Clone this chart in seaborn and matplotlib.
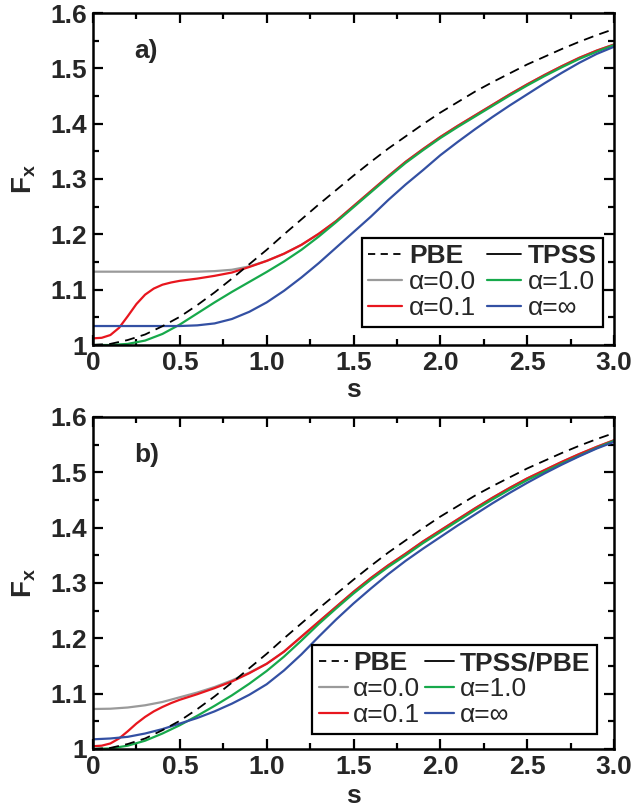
import numpy as np
import pandas as pd
import seaborn as sns
import matplotlib
matplotlib.use("Agg")
import matplotlib.pyplot as plt
from matplotlib.lines import Line2D
from matplotlib.ticker import MultipleLocator, FuncFormatter

# ---------------- data ----------------
S = [0.0, 0.1, 0.2, 0.3, 0.4, 0.5, 0.6, 0.7, 0.8, 0.9, 1.0,
     1.1, 1.2, 1.3, 1.4, 1.5, 1.6, 1.7, 1.8, 1.9, 2.0,
     2.1, 2.2, 2.3, 2.4, 2.5, 2.6, 2.7, 2.8, 2.9, 3.0]
S_FINE = [0.0, 0.05, 0.1, 0.15, 0.2, 0.25, 0.3, 0.35, 0.4, 0.45, 0.5,
          0.6, 0.7, 0.8, 0.9, 1.0,
          1.1, 1.2, 1.3, 1.4, 1.5, 1.6, 1.7, 1.8, 1.9, 2.0,
          2.1, 2.2, 2.3, 2.4, 2.5, 2.6, 2.7, 2.8, 2.9, 3.0]

pbe = [1.000, 1.002, 1.009, 1.019, 1.034, 1.051, 1.072, 1.095, 1.120, 1.146, 1.172,
       1.200, 1.227, 1.254, 1.280, 1.306, 1.331, 1.355, 1.377, 1.399, 1.420,
       1.439, 1.458, 1.475, 1.491, 1.507, 1.521, 1.535, 1.548, 1.560, 1.571]

# panel a) TPSS
a_gray = [1.1325, 1.1325, 1.1325, 1.1325, 1.1325, 1.1325, 1.1325, 1.1335, 1.136, 1.142, 1.152,
          1.165, 1.181, 1.201, 1.224, 1.251, 1.278, 1.305, 1.331, 1.354, 1.376,
          1.396, 1.415, 1.434, 1.453, 1.471, 1.488, 1.504, 1.519, 1.532, 1.543]
a_red = [1.012, 1.013, 1.018, 1.031, 1.052, 1.074, 1.091, 1.102, 1.109, 1.113, 1.116,
         1.120, 1.125, 1.131, 1.141, 1.152,
         1.165, 1.181, 1.201, 1.224, 1.251, 1.278, 1.305, 1.331, 1.354, 1.376,
         1.396, 1.415, 1.434, 1.453, 1.471, 1.488, 1.504, 1.519, 1.532, 1.543]
a_green = [1.000, 1.000, 1.002, 1.008, 1.020, 1.037, 1.057, 1.077, 1.096, 1.114, 1.132,
           1.151, 1.172, 1.196, 1.222, 1.249, 1.276, 1.303, 1.329, 1.352, 1.374,
           1.394, 1.413, 1.432, 1.451, 1.469, 1.486, 1.502, 1.517, 1.530, 1.542]
a_blue = [1.0343, 1.0343, 1.0343, 1.0343, 1.0343, 1.0343, 1.0355, 1.039, 1.047, 1.060, 1.077,
          1.098, 1.122, 1.148, 1.176, 1.204, 1.232, 1.262, 1.290, 1.316, 1.343,
          1.367, 1.390, 1.412, 1.433, 1.453, 1.473, 1.492, 1.510, 1.526, 1.539]

# panel b) TPSS/PBE
b_gray = [1.0723, 1.0728, 1.075, 1.079, 1.085, 1.0935, 1.102, 1.112, 1.124, 1.138, 1.154,
          1.176, 1.203, 1.230, 1.257, 1.284, 1.309, 1.332, 1.353, 1.375, 1.395,
          1.415, 1.435, 1.454, 1.472, 1.489, 1.504, 1.519, 1.533, 1.546, 1.558]
b_red = [1.005, 1.006, 1.010, 1.019, 1.032, 1.046, 1.058, 1.068, 1.076, 1.083, 1.089,
         1.099, 1.110, 1.122, 1.137, 1.154,
         1.176, 1.203, 1.230, 1.257, 1.284, 1.309, 1.332, 1.353, 1.375, 1.395,
         1.415, 1.435, 1.454, 1.472, 1.489, 1.504, 1.519, 1.533, 1.546, 1.558]
b_green = [1.000, 1.001, 1.006, 1.015, 1.028, 1.043, 1.060, 1.078, 1.097, 1.118, 1.141,
           1.167, 1.196, 1.226, 1.254, 1.281, 1.306, 1.329, 1.350, 1.372, 1.392,
           1.412, 1.432, 1.451, 1.469, 1.486, 1.501, 1.516, 1.530, 1.544, 1.557]
b_blue = [1.0175, 1.019, 1.022, 1.028, 1.036, 1.046, 1.056, 1.068, 1.082, 1.098, 1.117,
          1.142, 1.171, 1.203, 1.234, 1.263, 1.290, 1.316, 1.340, 1.362, 1.383,
          1.404, 1.424, 1.444, 1.463, 1.481, 1.498, 1.514, 1.529, 1.543, 1.555]

LABELS = ["α=0.0", "α=0.1", "α=1.0", "α=∞"]
COLORS = ["#9a9a9a", "#e8161e", "#17a94b", "#3350a3"]
PANEL_NAMES = ["a)", "b)"]
HEADERS = ["TPSS", "TPSS/PBE"]

# ---------------- style ----------------
sns.set_theme(style="ticks")
plt.rcParams["font.family"] = ["Liberation Sans", "DejaVu Sans"]
plt.rcParams["mathtext.fontset"] = "custom"
plt.rcParams["mathtext.rm"] = "Liberation Sans"
plt.rcParams["mathtext.bf"] = "Liberation Sans:bold"

fig = plt.figure(figsize=(6.33, 8.07), dpi=100)
W, H = 633, 807
ax_a = fig.add_axes([93 / W, (H - 345) / H, 521 / W, 332 / H])
ax_b = fig.add_axes([93 / W, (H - 749) / H, 521 / W, 332 / H])

panels = [
    (ax_a, [(S, a_gray), (S_FINE, a_red), (S, a_green), (S, a_blue)], (0.979, 0.054),
     dict(handlelength=1.3, handletextpad=0.25, columnspacing=0.4)),
    (ax_b, [(S, b_gray), (S_FINE, b_red), (S, b_green), (S, b_blue)], (0.967, 0.045),
     dict(handlelength=1.1, handletextpad=0.2, columnspacing=0.2)),
]

for i, (ax, series, leg_anchor, leg_kw) in enumerate(panels):
    for (sx, sy), lab, col in zip(series, LABELS, COLORS):
        df = pd.DataFrame({"s": sx, "F": sy})
        sns.lineplot(data=df, x="s", y="F", ax=ax, color=col, lw=1.6,
                     estimator=None, sort=False)
    dfp = pd.DataFrame({"s": S, "F": pbe})
    sns.lineplot(data=dfp, x="s", y="F", ax=ax, color="black", lw=1.3,
                 estimator=None, sort=False, dashes=False)
    ax.lines[-1].set_dashes((5.5, 3.5))

    ax.set_xlim(0, 3.0)
    ax.set_ylim(1.0, 1.6)
    ax.xaxis.set_major_locator(MultipleLocator(0.5))
    ax.xaxis.set_minor_locator(MultipleLocator(0.25))
    ax.yaxis.set_major_locator(MultipleLocator(0.1))
    ax.yaxis.set_minor_locator(MultipleLocator(0.05))
    ax.xaxis.set_major_formatter(FuncFormatter(lambda v, p: "0" if abs(v) < 1e-9 else f"{v:.1f}"))
    ax.yaxis.set_major_formatter(FuncFormatter(lambda v, p: "1" if abs(v - 1) < 1e-9 else f"{v:.1f}"))
    ax.tick_params(which="both", direction="in", top=True, right=True,
                   width=1.6, labelsize=19, pad=4, color="black")
    ax.tick_params(which="major", length=7)
    ax.tick_params(which="minor", length=4)
    for lbl in ax.get_xticklabels() + ax.get_yticklabels():
        lbl.set_fontweight("bold")
    for sp in ax.spines.values():
        sp.set_linewidth(1.8)
        sp.set_color("black")
    ax.set_xlabel("s", fontsize=19, fontweight="bold", labelpad=0)
    ax.set_ylabel(r"$\mathbf{F_x}$", fontsize=20, labelpad=6)
    ax.text(0.24, 1.531, PANEL_NAMES[i], fontsize=19, fontweight="bold",
            ha="left", va="center")

    h_pbe = Line2D([], [], color="black", lw=1.3, dashes=(4.0, 3.0))
    h_tp = Line2D([], [], color="black", lw=1.3)
    hs = [Line2D([], [], color=c, lw=1.6) for c in COLORS]
    handles = [h_pbe, hs[0], hs[1], h_tp, hs[2], hs[3]]
    labels = ["PBE", LABELS[0], LABELS[1], HEADERS[i], LABELS[2], LABELS[3]]
    leg = ax.legend(handles, labels, ncol=2, loc="lower right",
                    bbox_to_anchor=leg_anchor, fontsize=19, frameon=True,
                    fancybox=False, edgecolor="black", framealpha=1,
                    labelspacing=0.08, borderpad=0.25, borderaxespad=0,
                    **leg_kw)
    leg.get_frame().set_linewidth(1.6)
    for t in leg.get_texts():
        if t.get_text() in ("PBE", HEADERS[i]):
            t.set_fontweight("bold")

for ax in (ax_a, ax_b):
    ax.yaxis.set_label_coords(-0.105, 0.5)
ax_a.xaxis.set_label_coords(0.5, -0.1)
ax_b.xaxis.set_label_coords(0.5, -0.105)

fig.savefig("out.png", dpi=100)
